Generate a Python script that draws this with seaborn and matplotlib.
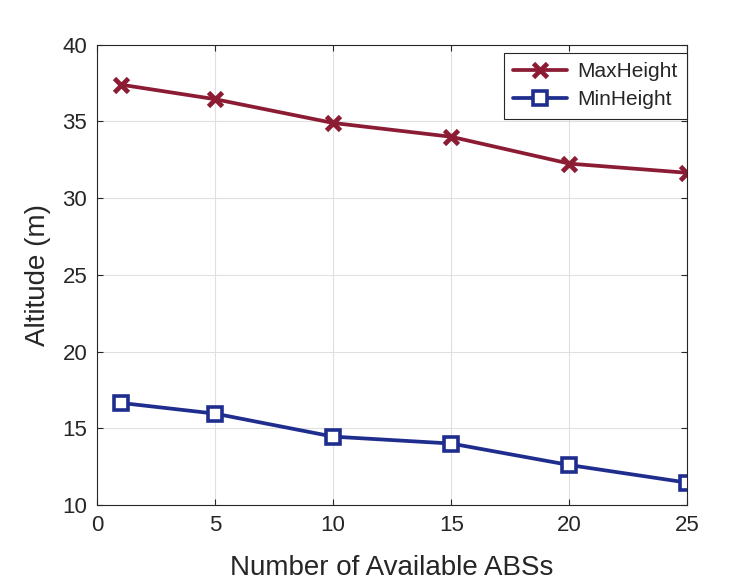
import numpy as np
import pandas as pd
import matplotlib
matplotlib.use("Agg")
import matplotlib.pyplot as plt
import seaborn as sns

# datos
num_abs = [1, 5, 10, 15, 20, 25]
max_height = [37.4, 36.45, 34.9, 34.0, 32.25, 31.65]
min_height = [16.65, 15.95, 14.45, 14.0, 12.6, 11.45]
series = ["MaxHeight", "MinHeight"]
colores = {"MaxHeight": "#8c1c34", "MinHeight": "#1f2e8e"}

df = pd.DataFrame({
    "abs": num_abs * 2,
    "altura": max_height + min_height,
    "serie": [series[0]] * len(num_abs) + [series[1]] * len(num_abs),
})

sns.set_style("whitegrid")
plt.rcParams["font.family"] = ["Liberation Sans", "DejaVu Sans"]

fig = plt.figure(figsize=(7.52, 5.81), dpi=100)
ax = fig.add_axes([0.129, 0.131, 0.785, 0.792])

for nombre in series:
    sub = df[df["serie"] == nombre]
    if nombre == "MaxHeight":
        ax.plot(sub["abs"], sub["altura"], color=colores[nombre], lw=2.7,
                marker="x", markersize=10, mew=3.4, label=nombre)
    else:
        ax.plot(sub["abs"], sub["altura"], color=colores[nombre], lw=2.7,
                marker="s", markersize=10, mew=2.6, mfc="white", label=nombre)

ax.set_xlim(0, 25)
ax.set_ylim(10, 40)
ax.set_xticks([0, 5, 10, 15, 20, 25])
ax.set_yticks([10, 15, 20, 25, 30, 35, 40])
ax.grid(True, color="#e0e0e0", lw=0.8)
for s in ax.spines.values():
    s.set_color("#262626")
    s.set_linewidth(0.8)
ax.tick_params(direction="in", length=4, width=0.8, labelsize=16, pad=7,
               top=True, right=True, bottom=True, left=True, colors="#262626")
ax.set_xlabel("Number of Available ABSs", fontsize=20, color="#262626", labelpad=14)
ax.set_ylabel("Altitude (m)", fontsize=20, color="#262626", labelpad=8)

leg = ax.legend(loc="upper right", bbox_to_anchor=(1.0, 0.983), fontsize=15,
                frameon=True, fancybox=False, edgecolor="#262626", framealpha=1,
                handlelength=2.6, borderaxespad=0, borderpad=0.45,
                labelspacing=0.45, handletextpad=0.5)
leg.get_frame().set_linewidth(0.8)

fig.savefig("out.png", dpi=100)
